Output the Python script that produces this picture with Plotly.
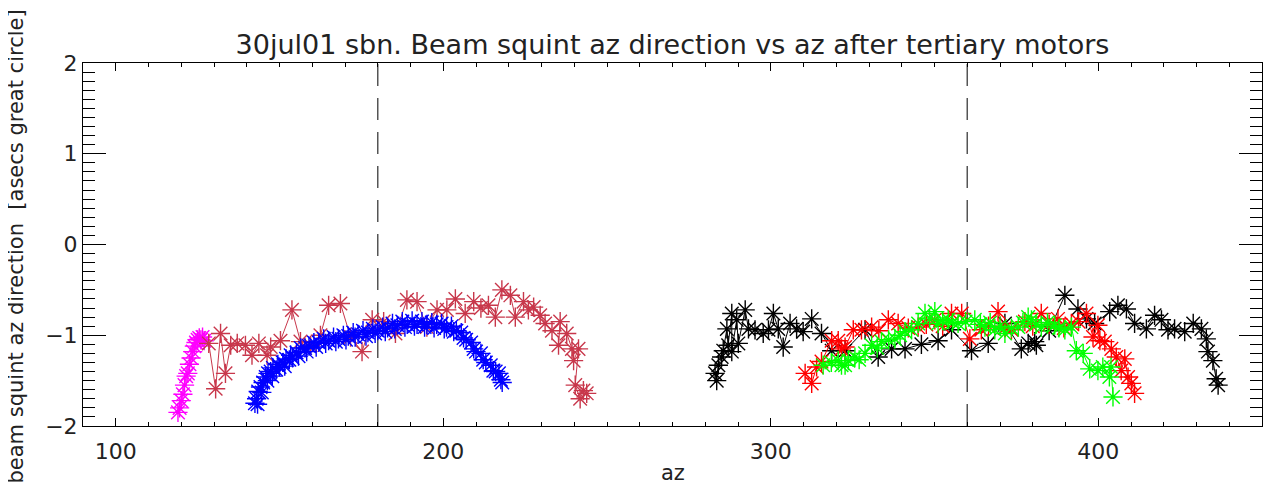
import plotly.graph_objects as go

# ---------------- data ----------------
magenta_az = [119.0, 119.5, 120.0, 120.5, 121.0, 121.5, 122.0, 122.5, 123.0, 123.5, 124.0, 124.5, 125.0, 125.5, 126.0, 126.5, 127.0]
magenta_y = [-1.85, -1.80, -1.72, -1.65, -1.55, -1.45, -1.42, -1.32, -1.25, -1.18, -1.12, -1.08, -1.05, -1.03, -1.05, -1.02, -1.06]

brown_az = [128.4, 130.5, 132.0, 133.5, 135.1, 137.1, 139.6, 141.6, 143.7, 146.2, 147.3, 150.3, 153.8, 156.4,
            159.5, 162.5, 165.0, 168.6, 171.7, 175.2, 178.3, 181.8, 185.4, 188.9, 192.0, 195.0, 198.1, 201.1,
            203.7, 206.7, 209.3, 211.5, 213.8, 215.9, 217.9, 220.5, 222.0, 224.5, 226.0, 227.6, 229.6, 231.1,
            233.2, 235.7, 235.2, 237.7, 239.3, 239.8, 241.3, 240.3, 241.8, 242.8, 243.8]
brown_y = [-1.09, -1.59, -0.98, -1.42, -1.11, -1.09, -1.11, -1.22, -1.09, -1.22, -1.13, -1.06, -0.72, -1.07,
           -1.11, -1.00, -0.67, -0.65, -1.02, -1.18, -0.83, -0.85, -0.98, -0.61, -0.63, -0.91, -0.72, -0.72,
           -0.60, -0.76, -0.63, -0.70, -0.67, -0.80, -0.50, -0.56, -0.80, -0.63, -0.72, -0.69, -0.78, -0.87,
           -0.95, -0.85, -1.11, -0.98, -1.15, -1.28, -1.15, -1.55, -1.70, -1.61, -1.64]

blue_az = [142.5, 143.0, 143.3, 143.5, 144.2, 144.6, 145.0, 145.8, 146.3, 146.5, 147.3, 147.8, 148.0, 149.0,
           149.5, 150.0, 151.0, 151.6, 152.0, 153.0, 153.4, 154.0, 155.2, 155.8, 156.5, 157.8, 158.3, 159.0,
           160.5, 161.2, 162.0, 163.5, 164.1, 165.0, 166.5, 167.2, 168.0, 169.5, 170.3, 171.0, 172.5, 173.1,
           174.0, 175.5, 176.4, 177.0, 178.5, 179.2, 180.0, 181.5, 182.3, 183.0, 184.5, 185.2, 186.0, 187.5,
           188.3, 189.0, 190.5, 191.2, 192.0, 193.5, 194.3, 195.0, 196.5, 197.2, 198.0, 199.5, 200.3, 201.0,
           202.5, 203.2, 204.0, 205.5, 206.2, 207.0, 208.5, 209.3, 210.0, 211.5, 212.2, 213.0, 214.5, 215.3,
           216.0, 217.0, 217.6, 218.0]
blue_y = [-1.75, -1.70, -1.76, -1.62, -1.57, -1.63, -1.52, -1.46, -1.50, -1.42, -1.40, -1.45, -1.36, -1.38,
          -1.32, -1.35, -1.30, -1.34, -1.26, -1.27, -1.22, -1.25, -1.19, -1.23, -1.14, -1.14, -1.18, -1.12,
          -1.08, -1.13, -1.08, -1.04, -1.09, -1.06, -1.02, -1.07, -1.04, -1.00, -1.05, -1.01, -0.97, -1.02,
          -0.99, -0.95, -1.01, -0.97, -0.93, -0.98, -0.95, -0.91, -0.96, -0.92, -0.87, -0.93, -0.89, -0.85,
          -0.91, -0.88, -0.84, -0.90, -0.88, -0.85, -0.91, -0.88, -0.86, -0.92, -0.88, -0.87, -0.93, -0.91,
          -0.90, -0.96, -0.95, -0.97, -1.03, -1.05, -1.08, -1.15, -1.18, -1.20, -1.27, -1.30, -1.33, -1.39,
          -1.40, -1.42, -1.49, -1.52]

black_az = [283.0, 283.5, 284.0, 285.0, 285.5, 286.6, 287.0, 288.1, 288.1, 289.6, 290.1, 292.2, 293.2, 295.2,
            297.7, 299.3, 300.8, 302.3, 303.8, 305.9, 307.9, 309.9, 312.5, 315.5, 318.6, 322.7, 328.8, 332.8,
            336.9, 341.0, 346.0, 351.1, 355.2, 361.3, 366.4, 371.5, 376.5, 378.6, 380.6, 381.1, 385.0, 389.8,
            393.8, 396.4, 398.9, 403.5, 406.0, 408.6, 411.1, 414.7, 417.2, 419.3, 421.3, 423.3, 426.4, 429.0,
            431.5, 433.0, 433.5, 435.0, 436.0, 436.6]
black_y = [-1.42, -1.50, -1.33, -1.24, -1.17, -0.93, -1.11, -0.76, -1.18, -0.83, -1.09, -0.72, -0.93, -0.94,
           -0.98, -0.94, -0.76, -0.93, -1.13, -0.87, -0.93, -0.96, -0.82, -0.98, -1.17, -1.17, -0.94, -1.24,
           -1.15, -1.15, -1.10, -1.06, -0.94, -1.17, -1.09, -0.87, -1.15, -1.09, -1.07, -1.11, -0.95, -0.56,
           -0.71, -0.82, -0.87, -0.74, -0.67, -0.71, -0.87, -0.93, -0.78, -0.83, -0.94, -0.93, -0.96, -0.87,
           -0.93, -1.04, -1.18, -1.28, -1.48, -1.55]

red_az = [310.5, 312.5, 314.0, 315.5, 318.6, 320.6, 321.6, 322.7, 325.2, 327.7, 330.8, 333.0, 335.9, 338.9,
          342.0, 345.0, 347.5, 350.1, 352.5, 355.2, 358.3, 360.8, 364.3, 366.5, 369.4, 371.5, 373.5, 377.6,
          380.0, 382.6, 385.0, 387.7, 389.5, 391.8, 394.0, 396.4, 398.4, 399.9, 400.5, 402.0, 404.0, 405.5,
          407.0, 408.1, 409.1, 410.1, 411.1]
red_y = [-1.42, -1.53, -1.35, -1.29, -1.06, -1.06, -1.15, -1.13, -0.94, -0.94, -0.91, -0.95, -0.83, -0.87,
         -0.92, -0.91, -0.88, -0.83, -0.90, -0.76, -0.76, -1.04, -0.94, -0.90, -0.74, -0.92, -0.94, -0.85,
         -0.90, -0.76, -0.88, -0.82, -0.92, -0.87, -0.85, -0.76, -1.02, -0.89, -1.06, -1.07, -1.15, -1.24,
         -1.39, -1.26, -1.46, -1.53, -1.64]

green_az = [316.0, 318.5, 320.6, 321.6, 322.7, 323.7, 325.7, 327.0, 328.8, 330.8, 332.5, 333.8, 336.0, 337.9,
            339.5, 341.0, 343.0, 345.0, 347.1, 348.5, 350.1, 351.1, 352.5, 354.2, 355.5, 357.2, 359.5, 362.3,
            364.0, 365.4, 367.0, 368.4, 370.0, 371.5, 373.5, 375.6, 377.0, 378.6, 379.6, 381.0, 382.6, 384.5,
            386.7, 388.0, 389.8, 391.8, 393.3, 395.4, 397.4, 399.9, 401.4, 403.4, 403.9, 404.5]
green_y = [-1.33, -1.30, -1.28, -1.33, -1.33, -1.28, -1.24, -1.27, -1.20, -1.11, -1.14, -1.07, -1.05, -1.04,
           -1.00, -0.96, -0.94, -0.87, -0.76, -0.82, -0.74, -0.87, -0.84, -0.83, -0.86, -0.87, -0.85, -0.83,
           -0.88, -0.91, -0.86, -0.94, -0.90, -0.98, -0.92, -0.91, -0.86, -0.80, -0.83, -0.88, -0.91, -0.86,
           -0.89, -0.92, -0.94, -0.91, -1.17, -1.20, -1.37, -1.39, -1.35, -1.46, -1.35, -1.68]

ref_lines_az = [180, 360]
y_ticks = [-2, -1, 0, 1, 2]
x_ticks = [100, 200, 300, 400]

title_text = "30jul01 sbn. Beam squint az direction vs az after tertiary motors"
x_title = "az"
y_title = "beam squint az direction  [asecs great circle]"

# ---------------- figure ----------------
# The page adds an 8 px body margin, so margins are offset by 8 px to land where the reference has them.
FONT = "DejaVu Sans"
W, H = 1275, 488
series = [
    (magenta_az, magenta_y, "#ff00ff"),
    (brown_az, brown_y, "#c8374b"),
    (blue_az, blue_y, "#0000ff"),
    (black_az, black_y, "#000000"),
    (red_az, red_y, "#ff0000"),
    (green_az, green_y, "#00ff00"),
]

fig = go.Figure()
for xs, ys, col in series:
    fig.add_trace(go.Scatter(
        x=xs, y=ys, mode="lines+markers",
        line=dict(color=col, width=1),
        marker=dict(symbol="asterisk-open", size=16, color=col, line=dict(color=col, width=1.4)),
        showlegend=False, hoverinfo="skip"))

for xv in ref_lines_az:
    fig.add_shape(type="line", xref="x", yref="paper", x0=xv, x1=xv, y0=0, y1=1,
                  line=dict(color="#555555", width=1.5, dash="22px,12px"), layer="below")

fig.update_layout(
    width=W, height=H,
    margin=dict(l=75, r=21, t=55, b=70, autoexpand=False),
    plot_bgcolor="white", paper_bgcolor="white",
    font=dict(family=FONT, size=20, color="black"),
    title=dict(text=title_text, x=0.5, xref="paper", xanchor="center",
               y=1 - 37 / H, yref="container", yanchor="middle",
               font=dict(family=FONT, size=27, color="#222222")),
)

fig.update_xaxes(
    range=[90, 450], tickvals=x_ticks, ticktext=[str(v) for v in x_ticks], automargin=False,
    showgrid=False, zeroline=False, showline=True, linecolor="black", linewidth=1,
    mirror="allticks", ticks="inside", ticklen=8, tickwidth=1, tickcolor="black",
    minor=dict(dtick=10, ticks="inside", ticklen=4, tickwidth=1, tickcolor="black"),
    ticklabelstandoff=6, tickfont=dict(size=22, color="#222222"),
)
fig.update_yaxes(
    range=[-2, 2], tickvals=y_ticks, ticktext=["\u22122", "\u22121", "0", "1", "2"], automargin=False,
    showgrid=False, zeroline=False, showline=True, linecolor="black", linewidth=1,
    mirror="allticks", ticks="inside", ticklen=23, tickwidth=1, tickcolor="black",
    minor=dict(dtick=0.1, ticks="inside", ticklen=12, tickwidth=1, tickcolor="black"),
    ticklabelstandoff=0, tickfont=dict(size=22, color="#222222"),
)

# axis titles
fig.add_annotation(text=x_title, xref="paper", yref="paper", x=0.5, y=0, yanchor="middle",
                   yshift=-47, showarrow=False, font=dict(family=FONT, size=21, color="#222222"))
fig.add_annotation(text=x_title, xref="paper", yref="paper", x=0.495, y=1, yanchor="middle",
                   yshift=72, showarrow=False, font=dict(family=FONT, size=21, color="#222222"))
fig.add_annotation(text=y_title, xref="paper", yref="paper", x=0, xshift=-68, y=0.5, yshift=-2,
                   xanchor="center", yanchor="middle", textangle=-90, showarrow=False,
                   font=dict(family=FONT, size=21, color="#222222"))

fig.write_html("out.html")
